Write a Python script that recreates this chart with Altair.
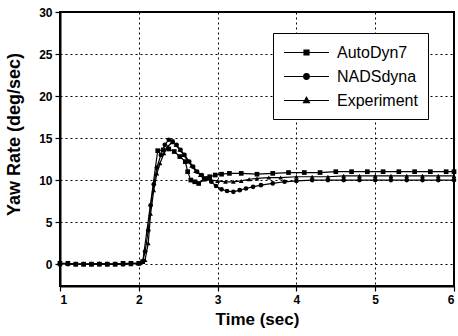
import altair as alt
import pandas as pd

# ---- data ----
series_names = ["AutoDyn7", "NADSdyna", "Experiment"]

auto_t = [1.0, 1.1, 1.2, 1.3, 1.4, 1.5, 1.6, 1.7, 1.8, 1.9, 2.0, 2.05, 2.24, 2.31, 2.38, 2.45,
          2.52, 2.59, 2.62, 2.66, 2.71, 2.76, 2.83, 2.9, 2.97, 3.05, 3.15, 3.3, 3.5, 3.7, 3.9,
          4.1, 4.3, 4.5, 4.7, 4.9, 5.1, 5.3, 5.5, 5.7, 5.9, 6.0]
auto_v = [0.1, 0.1, 0.0, 0.0, 0.0, 0.0, 0.0, 0.0, 0.1, 0.1, 0.1, 0.3, 13.5, 13.6, 13.7, 13.4,
          12.8, 12.2, 11.0, 10.0, 9.8, 9.6, 10.1, 10.4, 10.6, 10.7, 10.8, 10.8, 10.7, 10.8, 10.9,
          10.9, 10.9, 11.0, 11.0, 11.0, 11.0, 11.0, 11.0, 11.0, 11.0, 11.0]

nads_t = [1.0, 1.1, 1.2, 1.3, 1.4, 1.5, 1.6, 1.7, 1.8, 1.9, 2.0, 2.05, 2.08, 2.12, 2.15, 2.19,
          2.23, 2.28, 2.33, 2.38, 2.43, 2.48, 2.53, 2.58, 2.64, 2.69, 2.74, 2.8, 2.86, 2.92,
          2.98, 3.05, 3.12, 3.2, 3.28, 3.36, 3.45, 3.55, 3.7, 3.85, 4.0, 4.2, 4.4, 4.6, 4.8,
          5.0, 5.2, 5.4, 5.6, 5.8, 6.0]
nads_v = [0.1, 0.0, 0.0, 0.0, 0.0, 0.0, 0.0, 0.0, 0.0, 0.1, 0.1, 0.3, 1.5, 4.0, 7.0, 9.5,
          11.5, 13.0, 14.2, 14.8, 14.6, 14.2, 13.6, 13.0, 12.2, 11.6, 11.0, 10.6, 10.2, 9.8,
          9.3, 8.9, 8.7, 8.6, 8.8, 9.0, 9.2, 9.4, 9.6, 9.8, 9.9, 10.0, 10.0, 10.0, 10.0,
          10.0, 10.0, 10.0, 10.0, 10.0, 10.0]

exp_t = [1.0, 1.1, 1.2, 1.3, 1.4, 1.5, 1.6, 1.7, 1.8, 1.9, 2.0, 2.08, 2.12, 2.15, 2.19, 2.23,
         2.27, 2.32, 2.37, 2.42, 2.47, 2.52, 2.57, 2.62, 2.67, 2.72, 2.78, 2.85, 2.92, 3.0,
         3.1, 3.2, 3.3, 3.4, 3.5, 3.65, 3.8, 4.0, 4.2, 4.4, 4.6, 4.8, 5.0, 5.2, 5.4, 5.6,
         5.8, 6.0]
exp_v = [0.0, 0.1, 0.0, 0.0, 0.0, 0.1, 0.0, 0.0, 0.0, 0.0, 0.1, 0.5, 2.5, 6.0, 8.8, 10.8,
         12.0, 13.2, 14.0, 14.5, 14.2, 13.6, 13.0, 12.3, 11.7, 11.1, 10.6, 10.2, 10.0, 9.9,
         9.8, 9.8, 9.9, 10.1, 10.2, 10.3, 10.3, 10.4, 10.4, 10.4, 10.5, 10.5, 10.5, 10.5,
         10.5, 10.5, 10.5, 10.5]

x_ticks = [1, 2, 3, 4, 5, 6]
y_ticks = [0, 5, 10, 15, 20, 25, 30]

frames = []
for name, ts, vs in [(series_names[0], auto_t, auto_v),
                     (series_names[1], nads_t, nads_v),
                     (series_names[2], exp_t, exp_v)]:
    frames.append(pd.DataFrame({"t": ts, "v": vs, "series": name}))
df = pd.concat(frames, ignore_index=True)
legend_df = df.groupby("series", as_index=False).first()

FONT = "Liberation Sans"

x_enc = alt.X("t:Q", scale=alt.Scale(domain=[1, 6], nice=False, zero=False),
              axis=alt.Axis(values=x_ticks, title="Time (sec)", format="d"))
y_enc = alt.Y("v:Q", scale=alt.Scale(domain=[-2.6, 30], nice=False, zero=False),
              axis=alt.Axis(values=y_ticks, title="Yaw Rate (deg/sec)", format="d",
                            titleX=-37, titleY=122))

lines = alt.Chart(df).mark_line(color="black", strokeWidth=1.2).encode(
    x=x_enc, y=y_enc, detail="series:N")

points = alt.Chart(df).mark_point(filled=True, color="black", size=22, opacity=1).encode(
    x=x_enc, y=y_enc,
    shape=alt.Shape("series:N",
                    scale=alt.Scale(domain=series_names, range=["square", "circle", "triangle-up"]),
                    legend=None))

# legend glyphs: a 45px line with the marker in its middle (unit = 8.5px);
# markers are closed outlines hatched with short strokes so they read as solid
leg_paths = [
    "M-1,0H4.294M1.353,-0.294H1.941V0.294H1.353Z"
    "M1.353,-0.2H1.941M1.353,-0.1H1.941M1.353,0.1H1.941M1.353,0.2H1.941",
    "M-1,0H4.294M1.317,0A0.33,0.33,0,1,1,1.977,0A0.33,0.33,0,1,1,1.317,0Z"
    "M1.385,-0.2H1.909M1.333,-0.1H1.961M1.333,0.1H1.961M1.385,0.2H1.909",
    "M-1,0H4.294M1.647,-0.38L2.0,0.26H1.294Z"
    "M1.548,-0.2H1.746M1.493,-0.1H1.801M1.382,0.1H1.912M1.327,0.2H1.967",
]
legend_layer = alt.Chart(legend_df).mark_point(
    opacity=0, size=289, filled=False, color="black", strokeWidth=1.2).encode(
    x=x_enc, y=y_enc,
    shape=alt.Shape("series:N",
                    scale=alt.Scale(domain=series_names, range=leg_paths),
                    legend=alt.Legend(title=None, orient="none", legendX=213, legendY=21,
                                      padding=10, strokeColor="black", fillColor="white",
                                      symbolOpacity=1,
                                      symbolStrokeColor="black", symbolStrokeWidth=1.2,
                                      symbolSize=289, labelOffset=35, rowPadding=6,
                                      labelFont=FONT, labelFontSize=16, labelColor="black",
                                      labelFontWeight="normal")))

chart = alt.layer(lines, points, legend_layer).resolve_scale(shape="independent").properties(
    width=394, height=274,
    autosize=alt.AutoSizeParams(type="none"),
    padding={"left": 60, "top": 12, "right": 4, "bottom": 50},
).configure_view(stroke="black", strokeWidth=2).configure_axis(
    domainColor="black", domainWidth=2, tickColor="black", tickWidth=1.2, tickSize=5,
    gridColor="black", gridDash=[2, 3], gridWidth=1, gridOpacity=1,
    labelFont=FONT, labelFontWeight="bold", labelFontSize=12, labelColor="black",
    titleFont=FONT, titleFontWeight="bold", titleColor="black", labelPadding=3,
).configure_axisX(titleFontSize=17, titlePadding=6).configure_axisY(titleFontSize=18)

chart.save("out.html", embed_options={"renderer": "svg", "actions": False})
